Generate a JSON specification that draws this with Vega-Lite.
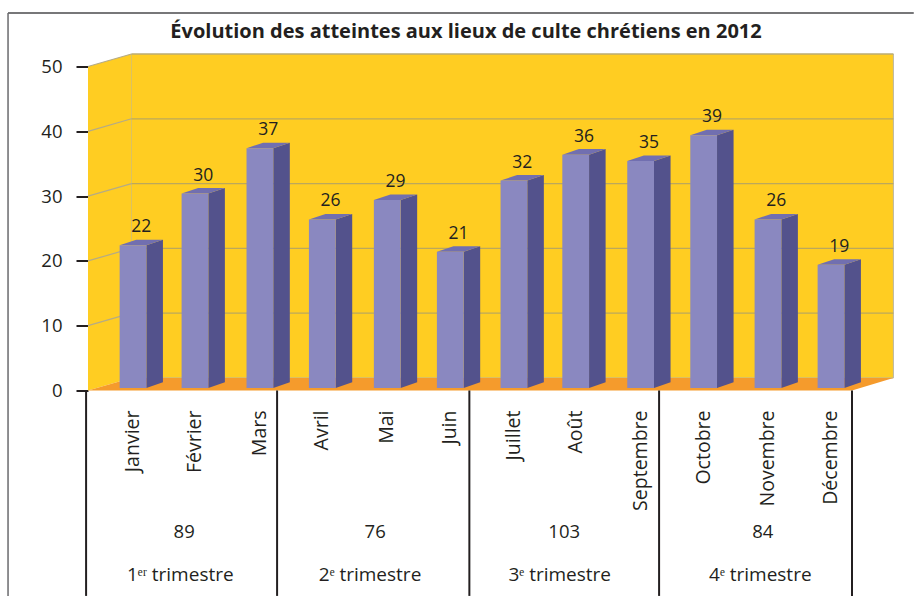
{
"$schema":"https://vega.github.io/schema/vega-lite/v6.json",
"width":764,"height":324,
"autosize":{"type":"none"},
"padding":{"left":88,"top":66.5,"right":62,"bottom":205.5},
"background":"white",
"title":{"text":"Évolution des atteintes aux lieux de culte chrétiens en 2012","font":"Open Sans","fontSize":20,"fontWeight":"bold","color":"#231f20","anchor":"middle","dx":-4,"offset":-30},
"config":{"view":{"stroke":null},"font":"Open Sans"},
"datasets":{
"mois":[
{"mois":"Janvier","valeur":22,"pos":0.707},
{"mois":"Février","valeur":30,"pos":1.68},
{"mois":"Mars","valeur":37,"pos":2.70},
{"mois":"Avril","valeur":26,"pos":3.68},
{"mois":"Mai","valeur":29,"pos":4.70},
{"mois":"Juin","valeur":21,"pos":5.69},
{"mois":"Juillet","valeur":32,"pos":6.69},
{"mois":"Août","valeur":36,"pos":7.66},
{"mois":"Septembre","valeur":35,"pos":8.68},
{"mois":"Octobre","valeur":39,"pos":9.67},
{"mois":"Novembre","valeur":26,"pos":10.68},
{"mois":"Décembre","valeur":19,"pos":11.67}],
"trimestres":[
{"trimestre":"1ᵉʳ trimestre","total":89,"posTotal":1.51,"posLabel":1.45,"zero":0},
{"trimestre":"2ᵉ trimestre","total":76,"posTotal":4.51,"posLabel":4.43,"zero":0},
{"trimestre":"3ᵉ trimestre","total":103,"posTotal":7.48,"posLabel":7.41,"zero":0},
{"trimestre":"4ᵉ trimestre","total":84,"posTotal":10.6,"posLabel":10.56,"zero":0}],
"limites":[{"x":-0.03,"haut":0,"bas":-31.7},{"x":2.97,"haut":0,"bas":-31.7},{"x":5.99,"haut":0,"bas":-31.7},{"x":8.97,"haut":0,"bas":-31.7},{"x":12,"haut":0,"bas":-31.7}],
"grille":[{"v":10,"g":0.683,"d":12.65},{"v":20,"g":0.683,"d":12.65},{"v":30,"g":0.683,"d":12.65},{"v":40,"g":0.683,"d":12.65},{"v":50,"g":0.683,"d":12.65}],
"cadre":[{"g":-1.256,"d":12.97,"haut":58.26,"bas":-31.7}]
},
"layer":[
{"data":{"name":"cadre"},"mark":{"type":"rule","color":"#4a4a4d","strokeWidth":1.5},"encoding":{"x":{"field":"g","type":"quantitative","scale":{"domain":[0,12],"nice":false,"zero":false},"axis":null},"x2":{"field":"d"},"y":{"field":"haut","type":"quantitative","scale":{"domain":[0,50],"nice":false,"zero":false},"axis":{"title":null,"values":[0,10,20,30,40,50],"domain":false,"grid":false,"tickColor":"#231f20","tickWidth":2,"tickSize":12,"labelColor":"#231f20","labelFont":"Open Sans","labelFontSize":18.5,"labelPadding":14}}}},
{"data":{"name":"cadre"},"mark":{"type":"rule","color":"#6a6a6d","strokeWidth":1.5},"encoding":{"x":{"field":"g","type":"quantitative"},"y":{"field":"haut","type":"quantitative"},"y2":{"field":"bas"}}},
{"data":{"values":[{"g":0.683,"d":12.65,"bas":1.93,"haut":51.93}]},"mark":{"type":"rect","color":"#ffcd22","stroke":"#b9b4a0","strokeWidth":1},"encoding":{"x":{"field":"g","type":"quantitative"},"x2":{"field":"d"},"y":{"field":"bas","type":"quantitative"},"y2":{"field":"haut"}}},
{"data":{"values":[{"x":0,"bas":0,"haut":50},{"x":0.683,"bas":1.93,"haut":51.93}]},"mark":{"type":"area","color":"#ffcd22","orient":"vertical"},"encoding":{"x":{"field":"x","type":"quantitative"},"y":{"field":"bas","type":"quantitative"},"y2":{"field":"haut"}}},
{"data":{"values":[{"g":0,"d":12,"y":0},{"g":0.683,"d":12.65,"y":1.93}]},"mark":{"type":"area","color":"#f59b2c","orient":"horizontal"},"encoding":{"y":{"field":"y","type":"quantitative"},"x":{"field":"g","type":"quantitative"},"x2":{"field":"d"}}},
{"data":{"name":"grille"},"transform":[{"calculate":"datum.v+1.93","as":"yb"}],"mark":{"type":"rule","color":"#bba85c","strokeWidth":1.2},"encoding":{"x":{"field":"g","type":"quantitative"},"x2":{"field":"d"},"y":{"field":"yb","type":"quantitative"}}},
{"data":{"name":"grille"},"transform":[{"calculate":"[0,1]","as":"p"},{"flatten":["p"]},{"calculate":"datum.p*0.683","as":"x"},{"calculate":"datum.v+datum.p*1.93","as":"y"}],"mark":{"type":"line","color":"#b5ab86","strokeWidth":1.2},"encoding":{"x":{"field":"x","type":"quantitative"},"y":{"field":"y","type":"quantitative"},"detail":{"field":"v"}}},
{"data":{"name":"mois"},"transform":[{"calculate":"[0,1]","as":"p"},{"flatten":["p"]},{"calculate":"datum.pos+0.21+datum.p*0.26","as":"x"},{"calculate":"0.4+datum.p*0.88","as":"bas"},{"calculate":"datum.valeur+0.4+datum.p*0.85","as":"haut"}],"mark":{"type":"area","color":"#53528c","orient":"vertical"},"encoding":{"x":{"field":"x","type":"quantitative"},"y":{"field":"bas","type":"quantitative"},"y2":{"field":"haut"},"detail":{"field":"mois"}}},
{"data":{"name":"mois"},"transform":[{"calculate":"[0,1]","as":"p"},{"flatten":["p"]},{"calculate":"datum.pos-0.21+datum.p*0.26","as":"g"},{"calculate":"datum.pos+0.21+datum.p*0.26","as":"d"},{"calculate":"datum.valeur+0.4+datum.p*0.85","as":"y"}],"mark":{"type":"area","color":"#716fb0","orient":"horizontal"},"encoding":{"y":{"field":"y","type":"quantitative"},"x":{"field":"g","type":"quantitative"},"x2":{"field":"d"},"detail":{"field":"mois"}}},
{"data":{"name":"mois"},"transform":[{"calculate":"datum.pos-0.21","as":"g"},{"calculate":"datum.pos+0.21","as":"d"},{"calculate":"datum.valeur+0.4","as":"h"},{"calculate":"0.4","as":"b"}],"mark":{"type":"rect","color":"#8a88c0"},"encoding":{"x":{"field":"g","type":"quantitative"},"x2":{"field":"d"},"y":{"field":"b","type":"quantitative"},"y2":{"field":"h"}}},
{"data":{"name":"mois"},"transform":[{"calculate":"datum.pos+0.13","as":"x"},{"calculate":"datum.valeur+1.25","as":"y"}],"mark":{"type":"text","fontSize":17.5,"color":"#231f20","baseline":"alphabetic","yOffset":-7.5},"encoding":{"x":{"field":"x","type":"quantitative"},"y":{"field":"y","type":"quantitative"},"text":{"field":"valeur","type":"quantitative"}}},
{"data":{"name":"limites"},"mark":{"type":"rule","color":"#231f20","strokeWidth":2},"encoding":{"x":{"field":"x","type":"quantitative"},"y":{"field":"haut","type":"quantitative"},"y2":{"field":"bas"}}},
{"data":{"name":"mois"},"transform":[{"calculate":"0","as":"y"}],"mark":{"type":"text","fontSize":19.5,"color":"#231f20","angle":270,"align":"right","baseline":"middle","yOffset":20},"encoding":{"x":{"field":"pos","type":"quantitative"},"y":{"field":"y","type":"quantitative"},"text":{"field":"mois"}}},
{"data":{"name":"trimestres"},"mark":{"type":"text","fontSize":18.5,"color":"#231f20","baseline":"middle","yOffset":141.5},"encoding":{"x":{"field":"posTotal","type":"quantitative"},"y":{"field":"zero","type":"quantitative"},"text":{"field":"total","type":"quantitative"}}},
{"data":{"name":"trimestres"},"mark":{"type":"text","fontSize":19,"color":"#231f20","baseline":"middle","yOffset":184},"encoding":{"x":{"field":"posLabel","type":"quantitative"},"y":{"field":"zero","type":"quantitative"},"text":{"field":"trimestre"}}}
]
}
